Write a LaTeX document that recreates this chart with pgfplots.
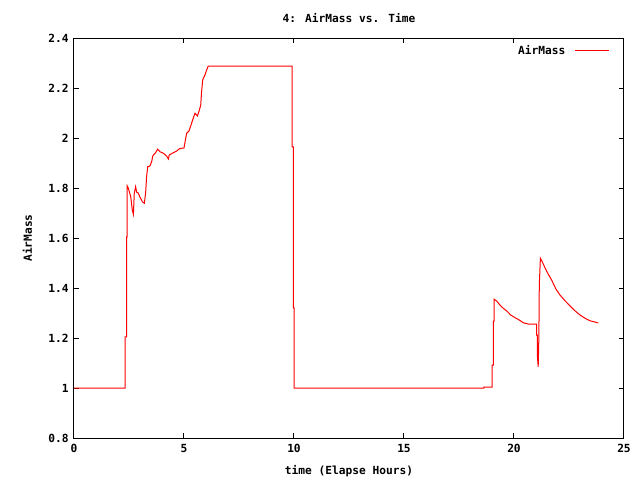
\documentclass[border=0pt]{standalone}
\usepackage{fontspec}
\setmainfont{DejaVu Sans Mono}
\usepackage{pgfplots}
\pgfplotsset{compat=1.18}

\begin{document}
\begin{tikzpicture}[x=0.75pt,y=0.75pt]
\fontsize{8.4}{10}\selectfont\bfseries
% page = 640x480 px, axis box 550x400 px at (74,38)
\useasboundingbox (-74,-42) rectangle (566,438);
\begin{axis}[
  at={(0,0)}, anchor=south west,
  scale only axis,
  width=412.5pt, height=300pt,
  xmin=0, xmax=25, ymin=0.8, ymax=2.4,
  xtick={0,5,10,15,20,25},
  ytick={0.8,1,1.2,1.4,1.6,1.8,2,2.2,2.4},
  tick align=inside,
  major tick length=3.75pt,
  minor tick num=0,
  axis line style={line width=0.75pt},
  every tick/.style={line width=0.75pt,black},
  /pgf/number format/assume math mode=true,
  ticklabel style={font=\fontsize{8.4}{10}\selectfont\bfseries},
  xticklabel style={yshift=-2pt},
  yticklabel style={xshift=-1pt},
  title={4: AirMass vs. Time},
  title style={yshift=2.2pt},
  xlabel={time (Elapse Hours)},
  xlabel style={yshift=-3.2pt},
  ylabel={AirMass},
  ylabel style={yshift=6.5pt},
  legend plot pos=right,
  legend style={draw=none, fill=none, at={(1,1)}, anchor=north east,
    xshift=-8pt, yshift=-1pt, font=\fontsize{8.4}{10}\selectfont\bfseries,
    /tikz/every odd column/.append style={column sep=5pt}},
  legend image post style={red, line width=0.75pt, xscale=1.47},
]
\addplot[color=red, line width=0.75pt]
coordinates {
(0,1.0)(2.32,1.0)(2.32,1.205)(2.39,1.205)(2.39,1.605)(2.42,1.605)(2.42,1.808)
(2.47,1.799)(2.58,1.765)(2.65,1.712)(2.70,1.695)(2.74,1.779)(2.80,1.805)
(2.85,1.783)(2.92,1.780)(3.00,1.763)(3.11,1.745)(3.20,1.739)(3.26,1.785)
(3.30,1.845)(3.35,1.885)(3.45,1.888)(3.53,1.905)(3.58,1.928)(3.65,1.936)
(3.70,1.940)(3.80,1.955)(3.91,1.945)(4.06,1.939)(4.21,1.928)(4.29,1.916)
(4.33,1.932)(4.51,1.941)(4.67,1.948)(4.79,1.957)(4.89,1.959)(5.00,1.960)
(5.05,1.985)(5.12,2.019)(5.23,2.029)(5.32,2.052)(5.42,2.079)(5.50,2.099)
(5.61,2.088)(5.70,2.112)(5.76,2.132)(5.80,2.185)(5.85,2.232)(5.95,2.252)
(6.03,2.272)(6.10,2.288)(9.92,2.288)(9.92,1.965)(9.97,1.965)(9.97,1.321)
(10.01,1.321)(10.01,1.0)(18.63,1.0)(18.63,1.004)(19.01,1.004)(19.01,1.092)
(19.06,1.092)(19.06,1.268)(19.10,1.268)(19.10,1.355)
(19.21,1.348)(19.36,1.332)(19.51,1.319)(19.67,1.308)(19.85,1.292)(20.05,1.281)
(20.24,1.272)(20.42,1.261)(20.65,1.256)(21.03,1.256)
(21.03,1.212)(21.06,1.212)(21.06,1.132)(21.10,1.085)(21.13,1.199)(21.15,1.412)
(21.20,1.519)(21.26,1.509)(21.41,1.481)(21.56,1.455)(21.71,1.432)(21.91,1.395)
(22.09,1.372)(22.32,1.349)(22.55,1.328)(22.77,1.309)(23.00,1.292)(23.23,1.279)
(23.45,1.269)(23.68,1.264)(23.83,1.260)
};
\legend{AirMass}
\end{axis}
\end{tikzpicture}
\end{document}
